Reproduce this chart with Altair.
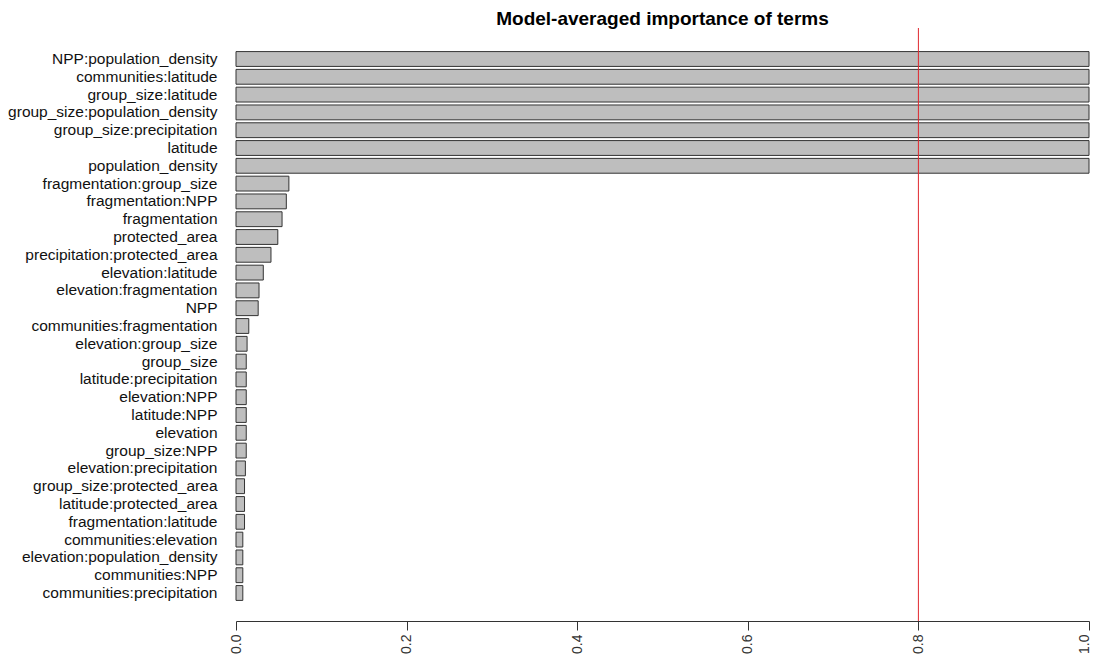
import altair as alt
import pandas as pd

terms = [
    "NPP:population_density", "communities:latitude", "group_size:latitude",
    "group_size:population_density", "group_size:precipitation", "latitude",
    "population_density", "fragmentation:group_size", "fragmentation:NPP",
    "fragmentation", "protected_area", "precipitation:protected_area",
    "elevation:latitude", "elevation:fragmentation", "NPP",
    "communities:fragmentation", "elevation:group_size", "group_size",
    "latitude:precipitation", "elevation:NPP", "latitude:NPP", "elevation",
    "group_size:NPP", "elevation:precipitation", "group_size:protected_area",
    "latitude:protected_area", "fragmentation:latitude", "communities:elevation",
    "elevation:population_density", "communities:NPP", "communities:precipitation",
]
importance = [
    1.0, 1.0, 1.0, 1.0, 1.0, 1.0, 1.0, 0.062, 0.059, 0.054, 0.049, 0.041,
    0.032, 0.027, 0.026, 0.015, 0.013, 0.012, 0.012, 0.012, 0.012, 0.012,
    0.012, 0.011, 0.010, 0.010, 0.010, 0.008, 0.008, 0.008, 0.008,
]
threshold = [0.8]
x_ticks = [0.0, 0.2, 0.4, 0.6, 0.8, 1.0]

df = pd.DataFrame({"term": terms, "importance": importance})
rule_df = pd.DataFrame({"threshold": threshold})

FONT = "Liberation Sans"

bars = alt.Chart(df).mark_bar(
    fill="#BEBEBE", stroke="#333333", strokeWidth=1
).encode(
    x=alt.X(
        "importance:Q",
        scale=alt.Scale(domain=[0, 1], nice=False, zero=True),
        axis=alt.Axis(
            values=x_ticks, format=".1f", title=None, grid=False,
            labelAngle=270, labelAlign="right", labelBaseline="middle",
            labelFontSize=14, labelColor="#333333", labelFont=FONT,
            tickSize=9, tickColor="#333333", domainColor="#333333",
            labelPadding=4, labelFlush=False, labelOverlap=False,
            labelOffset={"condition": {"test": "datum.value >= 1", "value": -5},
                         "value": 0},
        ),
    ),
    y=alt.Y(
        "term:N", sort=terms,
        scale=alt.Scale(paddingInner=0.1667, paddingOuter=0.0833,
                        range=[22.1, 573.9]),
        axis=alt.Axis(
            title=None, domain=False, ticks=False, labelFontSize=15.5,
            labelColor="#111111", labelFont=FONT, labelPadding=19,
            labelLimit=400,
        ),
    ),
)

rule = alt.Chart(rule_df).mark_rule(color="#E0282E", strokeWidth=1).encode(
    x="threshold:Q"
)

chart = (bars + rule).properties(
    width=853,
    height=593,
    title=alt.TitleParams(
        "Model-averaged importance of terms", font=FONT, fontSize=19,
        fontWeight="bold", color="#000000", anchor="middle", offset=-1,
    ),
    autosize=alt.AutoSizeParams(type="none"),
    padding={"left": 228, "top": 20, "right": 2, "bottom": 34},
).configure_view(stroke=None)

chart.save("out.html", embed_options={"renderer": "svg", "actions": False})
